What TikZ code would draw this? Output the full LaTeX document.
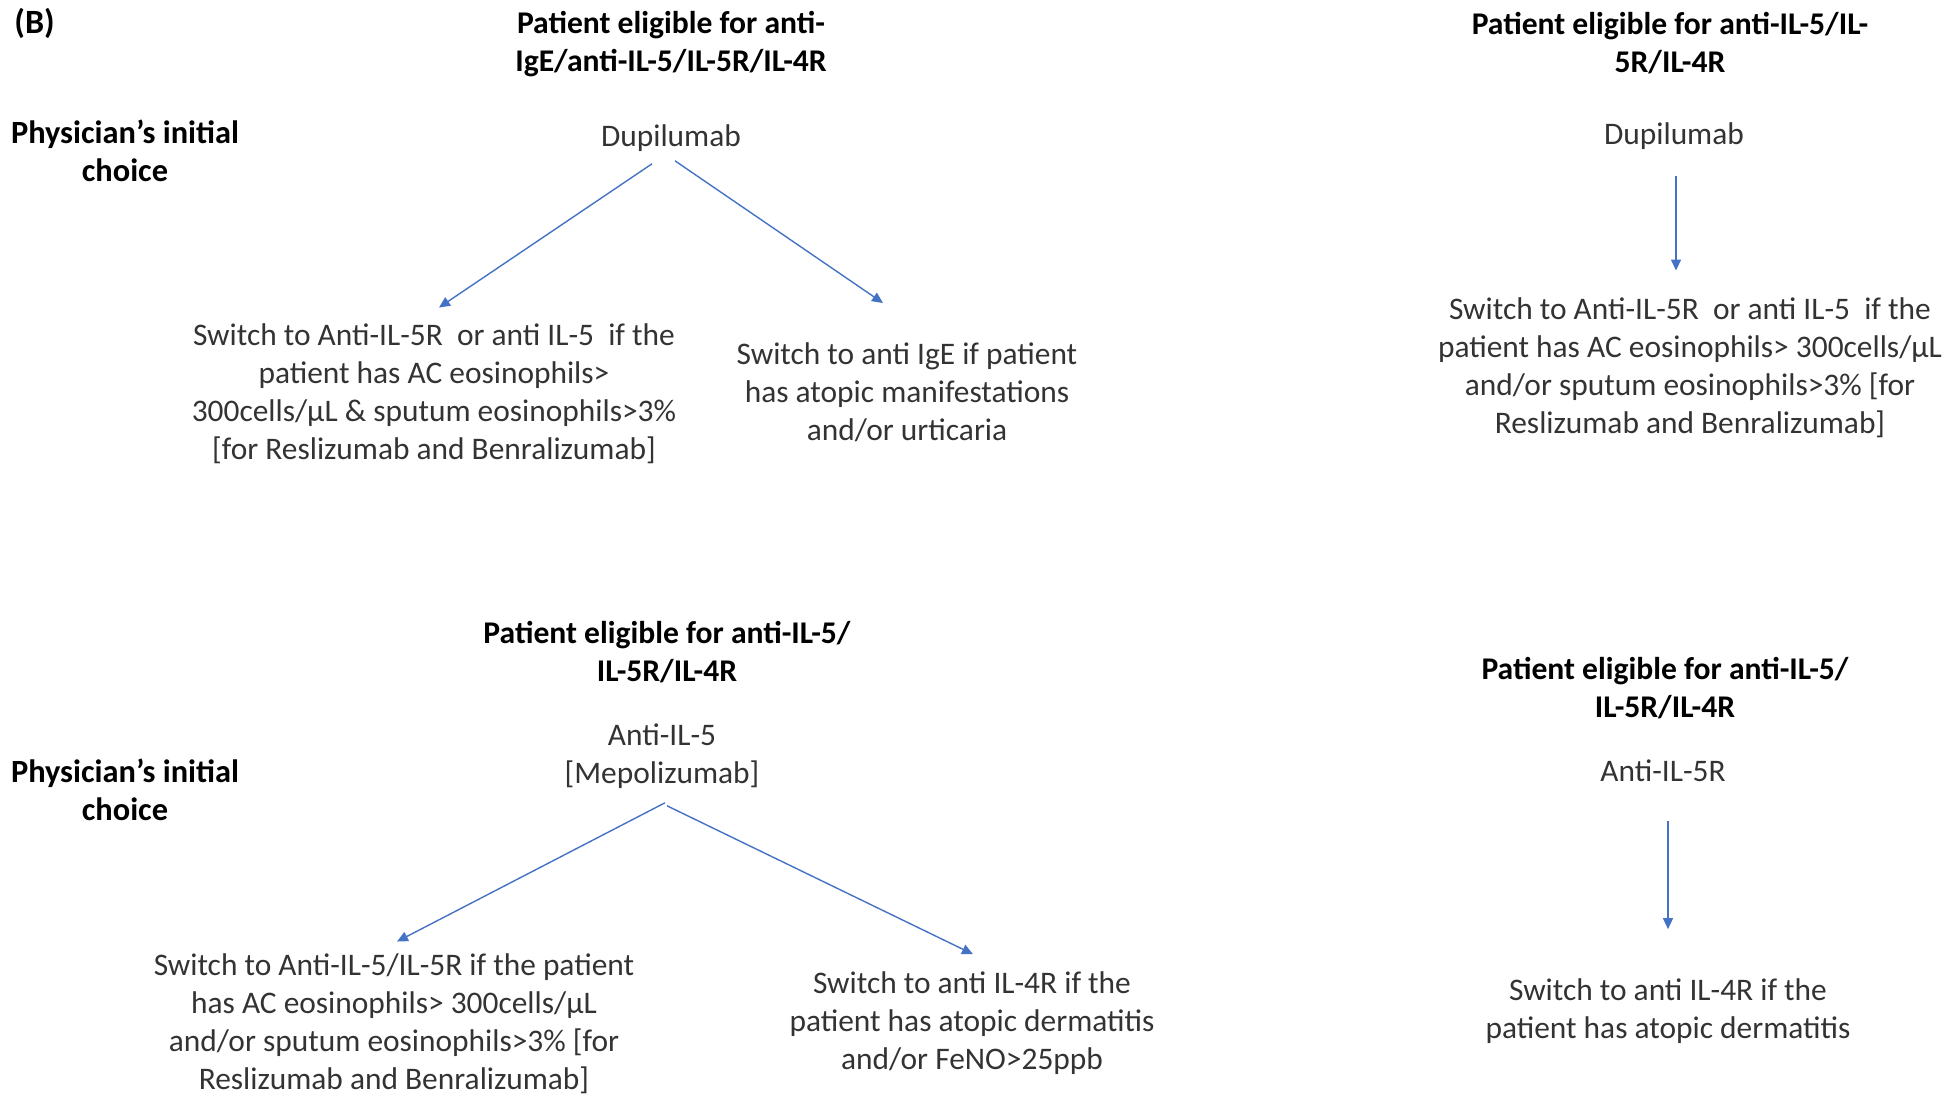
\documentclass[tikz,border=0pt]{standalone}
\usepackage{fontspec}
\setmainfont{Carlito}
\usetikzlibrary{arrows.meta,calc}

\definecolor{arrowblue}{HTML}{4472C4}
\definecolor{textgray}{HTML}{333333}

\tikzset{
  pxgrid/.style={x=0.5pt,y=-0.5pt},
  heading/.style={align=center,inner sep=0pt,font=\fontsize{15.8}{18.8}\selectfont\bfseries,text=black},
  choice/.style={align=center,inner sep=0pt,font=\fontsize{15.7}{19}\selectfont,text=textgray},
  switchtext/.style={align=center,inner sep=0pt,font=\fontsize{15.7}{19}\selectfont,text=textgray},
  arr/.style={draw=arrowblue,line width=0.7pt,-{Triangle[length=5.5pt,width=5pt]}}
}

\begin{document}
\begin{tikzpicture}[pxgrid]

    % Page frame
    \useasboundingbox (0,0) rectangle (1956,1096);

    % Panel label
    \node[heading,anchor=west,font=\fontsize{17}{19}\selectfont\bfseries] (panel) at (14,23) {(B)};

    % Top left tree
    \node[heading] (headA) at (671,44) {Patient eligible for anti-\\IgE/anti-IL-5/IL-5R/IL-4R};
    \node[heading,font=\fontsize{16.2}{19}\selectfont\bfseries] (physA) at (125,151) {Physician’s initial\\choice};
    \node[choice] (dupA) at (671,138) {Dupilumab};
    \node[switchtext] (swA) at (434,394) {Switch to Anti-IL-5R\ \ or anti IL-5\ \ if the\\patient has AC eosinophils>\\300cells/µL \& sputum eosinophils>3\%\\{}[for Reslizumab and Benralizumab]};
    \node[switchtext] (igeA) at (907,392) {Switch to anti IgE if patient\\has atopic manifestations\\and/or urticaria};
    \draw[arr] ($(dupA.south)+(-19,12)$) -- ($(swA.north)+(5,-16)$);
    \draw[arr] ($(dupA.south)+(4,9)$) -- ($(igeA.north)+(-24,-39)$);

    % Top right tree
    \node[heading] (headB) at (1670,43) {Patient eligible for anti-IL-5/IL-\\5R/IL-4R};
    \node[choice] (dupB) at (1674,136) {Dupilumab};
    \node[switchtext] (swB) at (1690,368) {Switch to Anti-IL-5R\ \ or anti IL-5\ \ if the\\patient has AC eosinophils> 300cells/µL\\and/or sputum eosinophils>3\% [for\\Reslizumab and Benralizumab]};
    \draw[arr] ($(dupB.south)+(2,26)$) -- ($(swB.north)+(-14,-27)$);

    % Bottom left tree
    \node[heading] (headC) at (667,652) {Patient eligible for anti-IL-5/\\IL-5R/IL-4R};
    \node[heading,font=\fontsize{16.2}{19}\selectfont\bfseries] (physC) at (125,790) {Physician’s initial\\choice};
    \node[choice] (mepC) at (662,756) {Anti-IL-5\\{}[Mepolizumab]};
    \node[switchtext] (swC) at (394,1024) {Switch to Anti-IL-5/IL-5R if the patient\\has AC eosinophils> 300cells/µL\\and/or sputum eosinophils>3\% [for\\Reslizumab and Benralizumab]};
    \node[switchtext] (ilC) at (972,1023) {Switch to anti IL-4R if the\\patient has atopic dermatitis\\and/or FeNO>25ppb};
    \draw[arr] ($(mepC.south)+(3,14)$) -- ($(swC.north)+(3,-12)$);
    \draw[arr] ($(mepC.south)+(5,17)$) -- ($(ilC.north)+(1,-17)$);

    % Bottom right tree
    \node[heading] (headD) at (1665,688) {Patient eligible for anti-IL-5/\\IL-5R/IL-4R};
    \node[choice] (rD) at (1663,771) {Anti-IL-5R};
    \node[switchtext] (ilD) at (1668,1011) {Switch to anti IL-4R if the\\patient has atopic dermatitis};
    \draw[arr] ($(rD.south)+(5,39)$) -- ($(ilD.north)+(0,-49)$);

\end{tikzpicture}
\end{document}
